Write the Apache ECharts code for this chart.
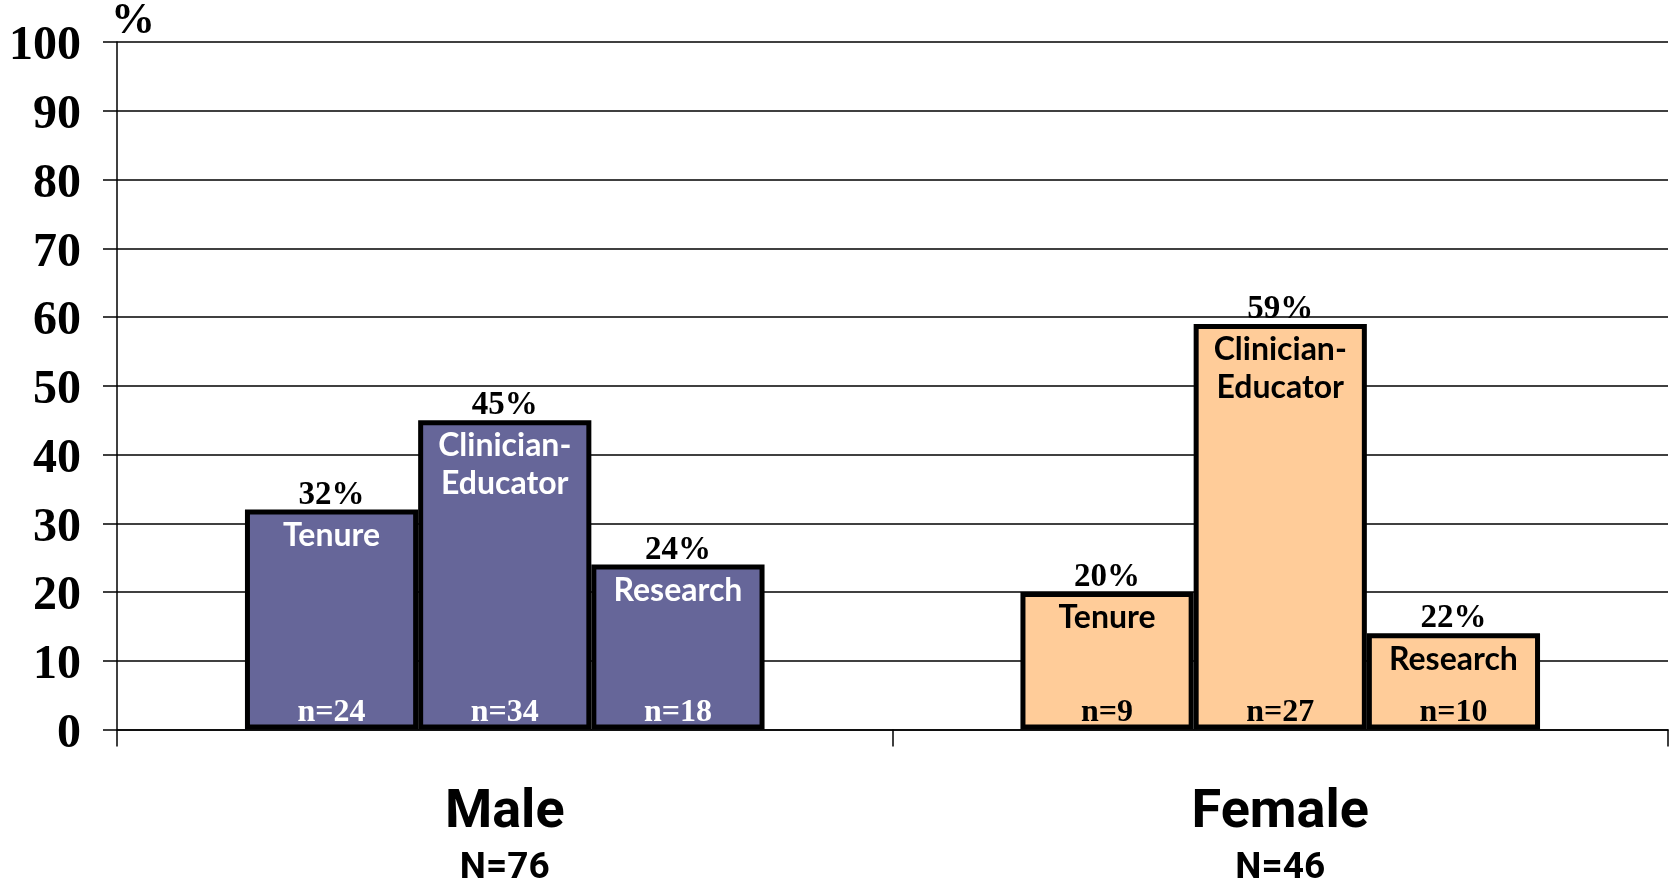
<!DOCTYPE html>
<html>
<head>
<meta charset="utf-8">
<script src="https://cdn.jsdelivr.net/npm/echarts@6/dist/echarts.min.js"></script>
<style>
  html, body { margin: 0; padding: 0; background: #fff; }
  #chart { width: 1679px; height: 882px; }
</style>
</head>
<body>
<div id="chart"></div>
<script>
// ---- data ----
const categories = ['Male', 'Female'];
const groupTotals = ['N=76', 'N=46'];
const roleNames = ['Tenure', 'Clinician-\nEducator', 'Research'];
const tenureValues = [32, 20];
const clinicianValues = [45, 59];
const researchValues = [24, 14];
const tenurePct = ['32%', '20%'];
const clinicianPct = ['45%', '59%'];
const researchPct = ['24%', '22%'];
const tenureN = ['n=24', 'n=9'];
const clinicianN = ['n=34', 'n=27'];
const researchN = ['n=18', 'n=10'];
const yTickMin = 0, yTickMax = 100, yTickStep = 10;

// ---- styling ----
const groupColors = ['#666699', '#FFCC99'];
const nameColors = ['#ffffff', '#000000'];
const serif = "'Liberation Serif', 'Times New Roman', serif";
const sans = "Lato, 'Noto Sans', sans-serif";
const catFont = "Roboto, 'Liberation Sans', sans-serif";

const valueSets = [tenureValues, clinicianValues, researchValues];
const pctSets = [tenurePct, clinicianPct, researchPct];
const nSets = [tenureN, clinicianN, researchN];

const series = [];
const gapOpts = { barGap: '0%', barCategoryGap: '33%' };

valueSets.forEach((vals, r) => {
  // visible bars with percent label above
  series.push(Object.assign({
    type: 'bar', xAxisIndex: 0, yAxisIndex: 0, z: 2,
    data: vals.map((v, c) => ({
      value: v,
      itemStyle: { color: groupColors[c], borderColor: '#000', borderWidth: 5 },
      label: { formatter: pctSets[r][c] }
    })),
    label: {
      show: true, position: 'top', distance: -2,
      fontFamily: serif, fontWeight: 'bold', fontSize: 33, color: '#000'
    },
    silent: true
  }, gapOpts));
  // role name label at top inside
  series.push(Object.assign({
    type: 'bar', xAxisIndex: 1, yAxisIndex: 0, z: 3,
    data: vals.map((v, c) => ({
      value: v,
      itemStyle: { color: 'rgba(0,0,0,0)' },
      label: { color: nameColors[c] }
    })),
    label: {
      show: true, position: 'insideTop', distance: 7,
      formatter: roleNames[r],
      fontFamily: sans, fontWeight: 'bold', fontSize: 32, lineHeight: 38
    },
    silent: true
  }, gapOpts));
  // n label at bottom inside
  series.push(Object.assign({
    type: 'bar', xAxisIndex: 2, yAxisIndex: 0, z: 3,
    data: vals.map((v, c) => ({
      value: v,
      itemStyle: { color: 'rgba(0,0,0,0)' },
      label: { formatter: nSets[r][c], color: nameColors[c] }
    })),
    label: {
      show: true, position: 'insideBottom', distance: 1,
      fontFamily: serif, fontWeight: 'bold', fontSize: 32
    },
    silent: true
  }, gapOpts));
});

const hiddenX = { type: 'category', data: categories, show: false, gridIndex: 0 };

const option = {
  animation: false,
  backgroundColor: '#fff',
  grid: { left: 117, right: 11, top: 42, bottom: 152.5, containLabel: false, outerBoundsMode: 'none' },
  xAxis: [
    {
      type: 'category', data: categories, gridIndex: 0,
      axisLine: { show: true, lineStyle: { color: '#000', width: 1.5 } },
      axisTick: { show: true, length: 17, lineStyle: { color: '#000', width: 1.5 } },
      axisLabel: {
        margin: 54,
        formatter: (v, i) => '{a|' + v + '}\n{b|' + groupTotals[i] + '}',
        rich: {
          a: { fontFamily: catFont, fontWeight: 'bold', fontSize: 54, lineHeight: 60, color: '#000' },
          b: { fontFamily: catFont, fontWeight: 'bold', fontSize: 37, lineHeight: 50, color: '#000' }
        }
      }
    },
    hiddenX,
    Object.assign({}, hiddenX)
  ],
  yAxis: [{
    type: 'value', min: yTickMin, max: yTickMax, interval: yTickStep,
    name: '%', nameLocation: 'end', nameGap: -2,
    nameTextStyle: { fontFamily: serif, fontWeight: 'bold', fontSize: 44, color: '#000', align: 'left', verticalAlign: 'bottom', padding: [0, 0, 0, -6] },
    axisLine: { show: true, lineStyle: { color: '#000', width: 1.5 } },
    axisTick: { show: true, length: 14, lineStyle: { color: '#000', width: 1.5 } },
    splitLine: { show: true, lineStyle: { color: '#000', width: 1.5 } },
    axisLabel: { margin: 36, fontFamily: serif, fontWeight: 'bold', fontSize: 48, color: '#000', verticalAlign: 'top', lineHeight: 10 }
  }],
  series: series
};

const chart = echarts.init(document.getElementById('chart'), null, { renderer: 'canvas' });
chart.setOption(option);
</script>
</body>
</html>
